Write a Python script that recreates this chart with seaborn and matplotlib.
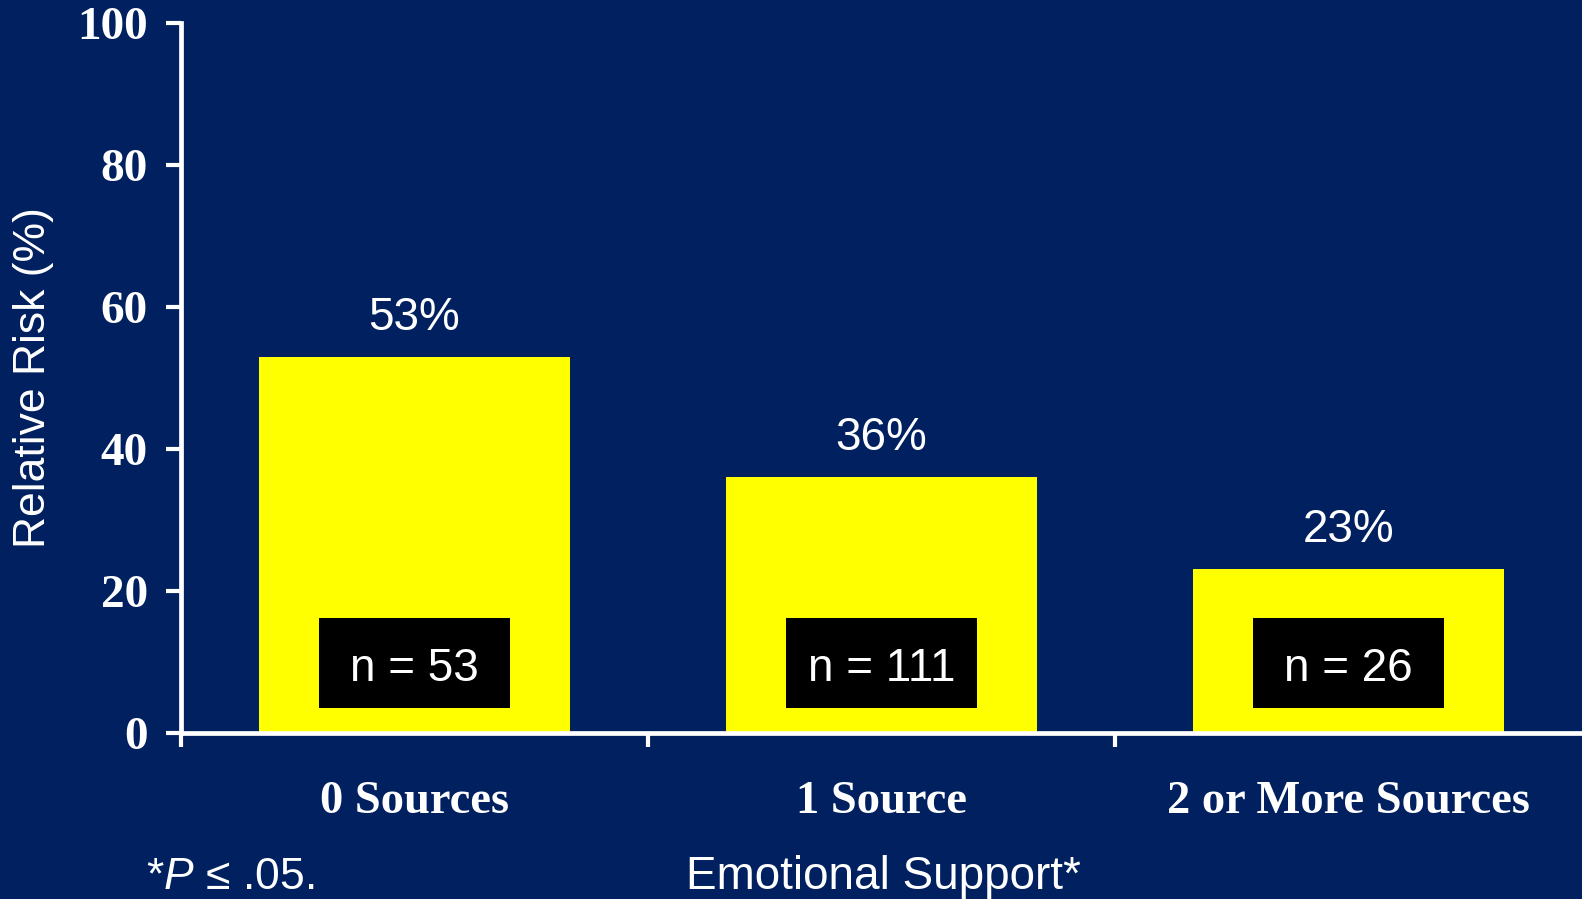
import numpy as np
import pandas as pd
import matplotlib
matplotlib.use('Agg')
import matplotlib.pyplot as plt
from matplotlib.patches import Rectangle
import seaborn as sns

# Data
categories = ['0 Sources', '1 Source', '2 or More Sources']
risk_pct = [53, 36, 23]
n_counts = [53, 111, 26]
y_ticks = [0, 20, 40, 60, 80, 100]

BG = '#012060'
BAR = '#FFFF00'
WHITE = 'white'

sns.set_theme(style='white')
plt.rcParams['font.family'] = ['Liberation Sans', 'DejaVu Sans']
plt.rcParams['mathtext.fontset'] = 'custom'
plt.rcParams['mathtext.it'] = 'Liberation Sans:italic'
plt.rcParams['mathtext.rm'] = 'Liberation Sans'

df = pd.DataFrame({'support': categories, 'risk': risk_pct})

fig = plt.figure(figsize=(15.82, 8.99), dpi=100, facecolor=BG)
ax = fig.add_axes([0.1144, 0.1852, 0.8856, 0.789])
ax.set_facecolor(BG)

sns.barplot(data=df, x='support', y='risk', color=BAR, saturation=1,
            width=0.665, linewidth=0, ax=ax, zorder=2)

ax.set_xlim(-0.5, 2.5)
ax.set_ylim(0, 100)
ax.set_yticks(y_ticks)
ax.set_yticklabels([str(t) for t in y_ticks], family='Liberation Serif',
                   fontweight='bold', fontsize=34, color=WHITE)
ax.set_xticks(range(len(categories)))
ax.set_xticklabels(categories, family='Liberation Serif',
                   fontweight='bold', fontsize=33.5, color=WHITE)
ax.tick_params(axis='x', which='major', bottom=True, length=0, pad=35)
ax.set_xticks([-0.5, 0.5, 1.5], minor=True)
ax.tick_params(axis='x', which='minor', bottom=True, length=10, width=3,
               color=WHITE, direction='out')
ax.tick_params(axis='y', left=True, length=11, width=3, color=WHITE, pad=13,
               direction='out')

for side in ['top', 'right']:
    ax.spines[side].set_visible(False)
for side in ['left', 'bottom']:
    ax.spines[side].set_color(WHITE)
    ax.spines[side].set_linewidth(3.4)
    ax.spines[side].set_zorder(3)

ax.set_xlabel('')
ax.set_ylabel('Relative Risk (%)', fontsize=32, color=WHITE)
ax.yaxis.label.set_va('center')
ax.yaxis.set_label_coords(-0.1056, 0.5)

# Percent labels above bars and n-boxes inside bars
for patch, pct, n in zip(ax.patches, risk_pct, n_counts):
    cx = patch.get_x() + patch.get_width() / 2
    ax.text(cx, pct + 5.5, f'{pct}%', ha='center', va='center',
            fontsize=33, color=WHITE)
    ax.add_patch(Rectangle((cx - 0.205, 3.4), 0.41, 12.7,
                           facecolor='black', edgecolor='none', zorder=3))
    ax.text(cx, 9.0, f'n = {n}', ha='center', va='center',
            fontsize=33, color=WHITE, zorder=4)

fig.text(0.5586, 0.024, 'Emotional Support*', ha='center', va='center',
         fontsize=33, color=WHITE)
fig.text(0.092, 0.024, r'*$P$ ≤ .05.', ha='left', va='center',
         fontsize=32, color=WHITE)

fig.savefig('out.png', dpi=100, facecolor=BG)
